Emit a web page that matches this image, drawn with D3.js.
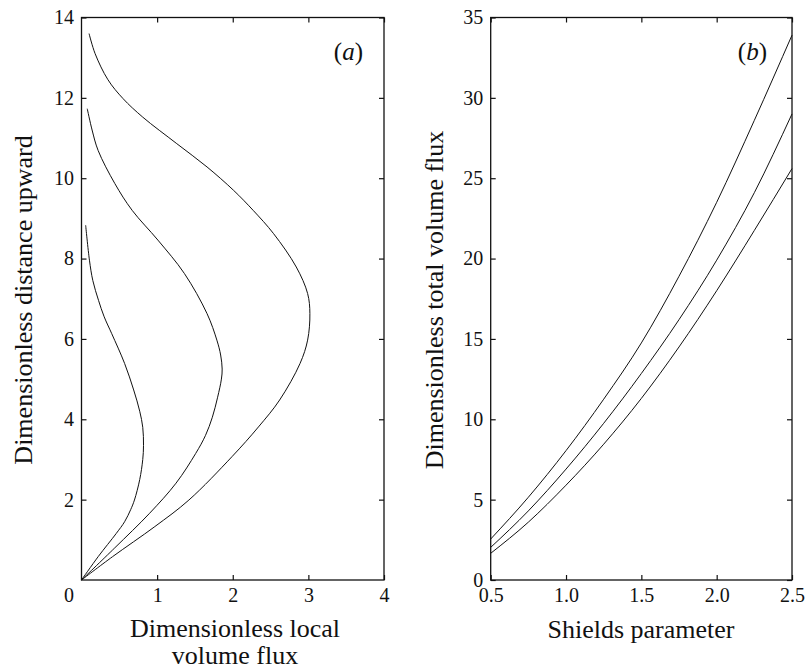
<!DOCTYPE html>
<html>
<head>
<meta charset="utf-8">
<script src="https://cdn.jsdelivr.net/npm/d3@7"></script>
<style>
  html, body { margin: 0; padding: 0; background: #fff; }
  svg { display: block; font-family: "Liberation Serif", "Times New Roman", serif; }
</style>
</head>
<body>
<svg id="chart" width="809" height="670"></svg>
<script>
// Panel (a): vertical profiles of local volume flux (three cases)
const heightInner = [0, 0.58, 1.16, 1.45, 1.75, 1.99, 2.5, 3.0, 3.35, 3.8, 4.2, 4.73, 5.39, 6.13, 6.55, 6.96, 7.45, 7.96, 8.83];
const fluxInner   = [0, 0.22, 0.46, 0.57, 0.65, 0.70, 0.77, 0.81, 0.82, 0.81, 0.77, 0.69, 0.57, 0.40, 0.30, 0.225, 0.15, 0.105, 0.055];

const heightMiddle = [0, 0.8, 1.66, 2.41, 3.15, 3.6, 4.05, 4.55, 5.0, 5.25, 5.6, 5.97, 6.63, 7.63, 8.46, 9.20, 9.87, 10.69, 11.2, 11.73];
const fluxMiddle   = [0, 0.44, 0.90, 1.25, 1.51, 1.64, 1.73, 1.80, 1.85, 1.86, 1.84, 1.79, 1.66, 1.36, 1.01, 0.67, 0.44, 0.22, 0.14, 0.076];

const heightOuter = [0, 0.58, 1.33, 1.99, 3.07, 3.81, 4.48, 5.39, 5.97, 6.63, 7.13, 7.79, 8.62, 9.20, 9.70, 10.28, 10.86, 11.52, 11.98, 12.45, 13.1, 13.6];
const fluxOuter   = [0, 0.41, 0.97, 1.42, 1.99, 2.34, 2.62, 2.89, 2.99, 3.02, 2.99, 2.84, 2.54, 2.27, 2.01, 1.66, 1.26, 0.81, 0.55, 0.35, 0.18, 0.10];

// Panel (b): total volume flux against Shields parameter
const shields   = [0.5, 0.75, 1.0, 1.25, 1.5, 1.75, 2.0, 2.25, 2.5];
const totalHigh = [2.55, 5.15, 8.05, 11.25, 14.75, 18.9, 23.5, 28.6, 33.9];
const totalMid  = [2.03, 4.3, 6.9, 9.75, 12.85, 16.2, 19.9, 24.1, 29.0];
const totalLow  = [1.66, 3.6, 5.9, 8.45, 11.3, 14.5, 18.0, 21.75, 25.6];

// Tick values
const ticksAx = [1, 2, 3, 4];
const ticksAy = [2, 4, 6, 8, 10, 12, 14];
const ticksBx = [0.5, 1.0, 1.5, 2.0, 2.5];
const ticksBy = [0, 5, 10, 15, 20, 25, 30, 35];

const svg = d3.select("#chart");
const ink = "#111";
const serif = "'Liberation Serif', 'Times New Roman', serif";

const xA = d3.scaleLinear().domain([0, 4]).range([81.5, 384]);
const yA = d3.scaleLinear().domain([0, 14]).range([580, 17.5]);
const xB = d3.scaleLinear().domain([0.5, 2.5]).range([490.7, 792]);
const yB = d3.scaleLinear().domain([0, 35]).range([580, 17.5]);

function frame(x, y, xt, yt, xfmt, yfmt) {
  const g = svg.append("g");
  const [x0, x1] = x.range(), [y0, y1] = y.range();
  // inward ticks on all four sides
  const bottom = g.append("g").attr("transform", `translate(0,${y0})`)
    .call(d3.axisBottom(x).tickValues(xt).tickSize(-5).tickPadding(8).tickFormat(xfmt));
  const left = g.append("g").attr("transform", `translate(${x0},0)`)
    .call(d3.axisLeft(y).tickValues(yt).tickSize(-5).tickPadding(7.5).tickFormat(yfmt));
  const top = g.append("g").attr("transform", `translate(0,${y1})`)
    .call(d3.axisTop(x).tickValues(xt).tickSize(-5).tickFormat(""));
  const right = g.append("g").attr("transform", `translate(${x1},0)`)
    .call(d3.axisRight(y).tickValues(yt).tickSize(-5).tickFormat(""));
  [bottom, left, top, right].forEach(a => {
    a.attr("font-family", serif);
    a.select(".domain").remove();
    a.selectAll("line").attr("stroke", ink).attr("stroke-width", 1.2);
    a.selectAll("text").attr("font-family", serif).attr("font-size", 20).attr("fill", ink);
  });
  g.append("rect")
    .attr("x", x0).attr("y", y1).attr("width", x1 - x0).attr("height", y0 - y1)
    .attr("fill", "none").attr("stroke", ink).attr("stroke-width", 1.3);
  return g;
}

function label(x, y, size, str) {
  return svg.append("text").attr("x", x).attr("y", y)
    .attr("font-family", serif).attr("font-size", size).attr("fill", ink).text(str);
}

// ---- Panel (a)
frame(xA, yA, ticksAx, ticksAy, d3.format("d"), d3.format("d"));
// shared origin label
label(69, 602, 20, "0").attr("text-anchor", "middle");

const profileLine = d3.line()
  .x(d => xA(d[0])).y(d => yA(d[1]))
  .curve(d3.curveCatmullRom.alpha(0.5));

[[fluxInner, heightInner], [fluxMiddle, heightMiddle], [fluxOuter, heightOuter]].forEach(([f, h]) => {
  svg.append("path")
    .datum(d3.zip(f, h))
    .attr("d", profileLine)
    .attr("fill", "none").attr("stroke", ink).attr("stroke-width", 1);
});

label(363, 60, 25, null).attr("text-anchor", "end")
  .call(t => { t.append("tspan").text("("); t.append("tspan").attr("font-style", "italic").text("a"); t.append("tspan").text(")"); });

label(0, 0, 26, "Dimensionless distance upward")
  .attr("transform", "translate(32,300) rotate(-90)").attr("text-anchor", "middle");

label(235, 637, 26, "Dimensionless local").attr("text-anchor", "middle");
label(235, 664, 26, "volume flux").attr("text-anchor", "middle");

// ---- Panel (b)
frame(xB, yB, ticksBx, ticksBy, d3.format(".1f"), d3.format("d"));

const totalLine = d3.line()
  .x(d => xB(d[0])).y(d => yB(d[1]))
  .curve(d3.curveMonotoneX);

[totalHigh, totalMid, totalLow].forEach(vals => {
  svg.append("path")
    .datum(d3.zip(shields, vals))
    .attr("d", totalLine)
    .attr("fill", "none").attr("stroke", ink).attr("stroke-width", 1);
});

label(767, 60, 25, null).attr("text-anchor", "end")
  .call(t => { t.append("tspan").text("("); t.append("tspan").attr("font-style", "italic").text("b"); t.append("tspan").text(")"); });

label(0, 0, 26, "Dimensionless total volume flux")
  .attr("transform", "translate(443,300) rotate(-90)").attr("text-anchor", "middle");

label(641, 638, 26, "Shields parameter").attr("text-anchor", "middle");
</script>
</body>
</html>
